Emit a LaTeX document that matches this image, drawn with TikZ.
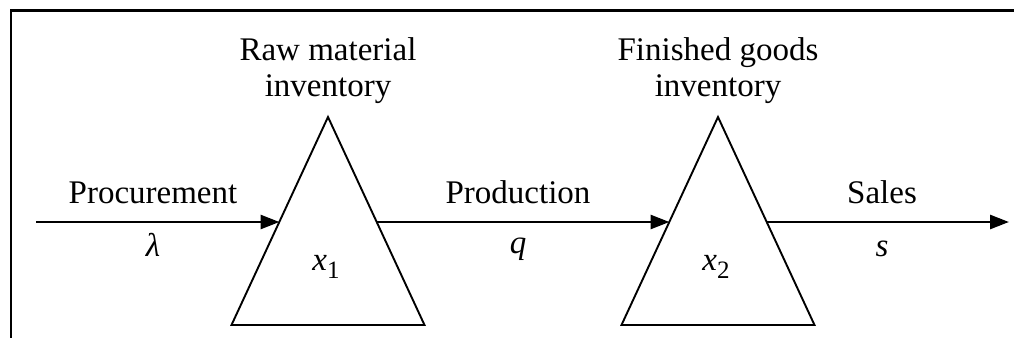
\documentclass[tikz,border=0pt]{standalone}
\usepackage{fontspec}
\setmainfont{Liberation Serif}
\usetikzlibrary{arrows.meta}
\newcommand{\sub}[1]{\raisebox{-4pt}{\fontsize{12.5}{14}\selectfont #1}}
\begin{document}
\begin{tikzpicture}[x=0.5pt,y=-0.5pt,
  lbl/.style={inner sep=0pt,anchor=base,font=\fontsize{16.5}{18}\selectfont},
  head/.style={lbl,align=center},
  flow/.style={line width=1.4pt,-{Triangle[length=9.5pt,width=7pt]}},
  tank/.style={line width=0.95pt,line join=miter}]
  \useasboundingbox (0,0) rectangle (1014,338);
  % frame
  \draw[line width=1.3pt] (11,340) -- (11,10.5) -- (1016,10.5);
  % inventory triangles
  \coordinate (a1) at (328,117);
  \coordinate (a2) at (718,117);
  \draw[tank] (a1) -- (231.5,325) -- (424.5,325) -- cycle;
  \draw[tank] (a2) -- (621.5,325) -- (814.5,325) -- cycle;
  % points where the flow line meets the triangle sides
  \coordinate (t1in) at (279.5,222);
  \coordinate (t1out) at (376.5,222);
  \coordinate (t2in) at (669.5,222);
  \coordinate (t2out) at (766.5,222);
  \coordinate (src) at (36,222);
  \coordinate (sink) at (1009,222);
  % flows
  \draw[flow] (src) -- (t1in);
  \draw[flow] (t1out) -- (t2in);
  \draw[flow] (t2out) -- (sink);
  % labels (base anchor sits on the last line)
  \node[head] (h1) at (328,96) {Raw material\\inventory};
  \node[head] (h2) at (718,96) {Finished goods\\inventory};
  \node[lbl] (p1) at (153,203) {Procurement};
  \node[lbl] (p2) at (518,203) {Production};
  \node[lbl] (p3) at (882,203) {Sales};
  \node[lbl] (r1) at (153,256) {\textit{λ}};
  \node[lbl] (r2) at (518,253) {\textit{q}};
  \node[lbl] (r3) at (882,256) {\textit{s}};
  \node[lbl] (x1) at (326,270) {\textit{x}\sub{1}};
  \node[lbl] (x2) at (716,270) {\textit{x}\sub{2}};
\end{tikzpicture}
\end{document}
